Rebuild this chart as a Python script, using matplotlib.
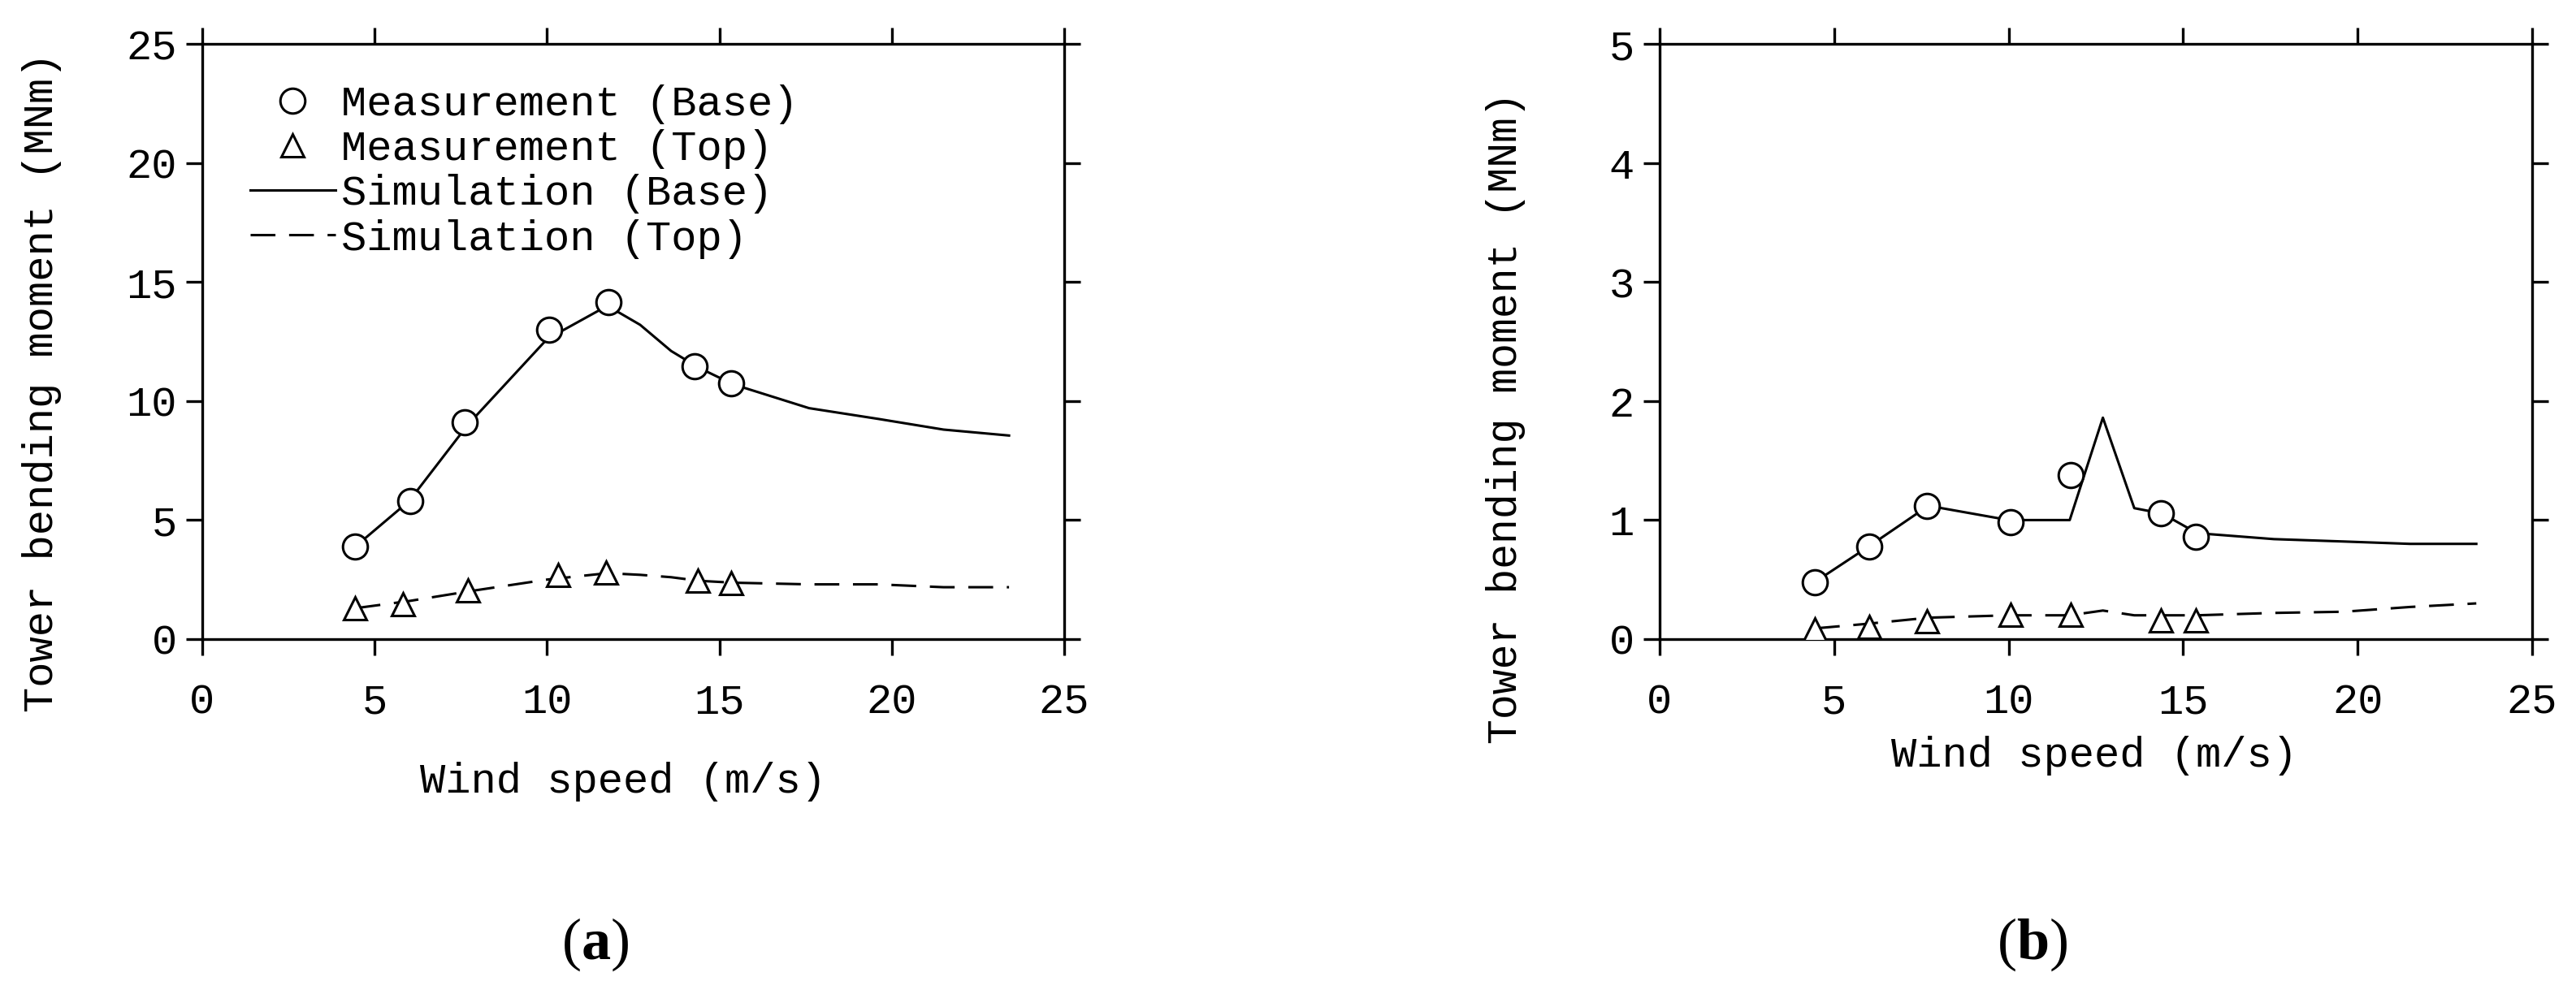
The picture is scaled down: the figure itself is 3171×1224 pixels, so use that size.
import matplotlib
matplotlib.use("Agg")
import matplotlib.pyplot as plt

# ---- data ----
SIM_WIND = [4.45, 6.0, 7.7, 10.0, 11.75, 12.7, 13.6, 14.4, 15.4, 17.6, 19.6, 21.5, 23.4]

# (a)
A_MEAS_BASE_X = [4.44, 6.04, 7.62, 10.06, 11.79, 14.29, 15.34]
A_MEAS_BASE_Y = [3.9, 5.8, 9.1, 13.0, 14.15, 11.45, 10.75]
A_MEAS_TOP_X = [4.44, 5.81, 7.70, 10.33, 11.72, 14.37, 15.34]
A_MEAS_TOP_Y = [1.29, 1.48, 2.03, 2.68, 2.79, 2.46, 2.35]
A_SIM_BASE = [3.9, 5.8, 9.0, 12.6, 14.0, 13.2, 12.1, 11.4, 10.7, 9.7, 9.25, 8.8, 8.55]
A_SIM_TOP = [1.3, 1.6, 2.0, 2.5, 2.77, 2.7, 2.6, 2.45, 2.37, 2.3, 2.3, 2.18, 2.18]

# (b)
B_MEAS_BASE_X = [4.45, 6.0, 7.65, 10.05, 11.79, 14.37, 15.36]
B_MEAS_BASE_Y = [0.48, 0.78, 1.12, 0.98, 1.38, 1.055, 0.86]
B_MEAS_TOP_X = [4.45, 6.0, 7.65, 10.05, 11.79, 14.37, 15.36]
B_MEAS_TOP_Y = [0.083, 0.10, 0.15, 0.205, 0.205, 0.16, 0.16]
B_SIM_BASE = [0.48, 0.78, 1.12, 1.0, 1.0, 1.86, 1.10, 1.055, 0.89, 0.84, 0.82, 0.80, 0.80]
B_SIM_TOP = [0.09, 0.13, 0.18, 0.20, 0.20, 0.24, 0.20, 0.20, 0.20, 0.22, 0.23, 0.27, 0.30]

X_TICKS = [0, 5, 10, 15, 20, 25]
A_Y_TICKS = [0, 5, 10, 15, 20, 25]
B_Y_TICKS = [0, 1, 2, 3, 4, 5]

LABELS = ["Measurement (Base)", "Measurement (Top)",
          "Simulation (Base)", "Simulation (Top)"]

MONO = "Liberation Mono"
plt.rcParams["font.family"] = [MONO, "DejaVu Sans Mono"]
plt.rcParams["mathtext.fontset"] = "custom"
plt.rcParams["mathtext.rm"] = "Liberation Serif"
plt.rcParams["mathtext.bf"] = "Liberation Serif:bold"

W, H = 3171, 1224
fig = plt.figure(figsize=(W / 100, H / 100), dpi=100)
fig.patch.set_facecolor("white")


def draw_panel(ax, mb_x, mb_y, mt_x, mt_y, sim_base, sim_top, yticks,
               ylabel_xy, xlabel_xy, ylab_size):
    lw = 2.2
    sb, = ax.plot(SIM_WIND, sim_base, color="black", lw=lw, zorder=2)
    st, = ax.plot(SIM_WIND, sim_top, color="black", lw=lw, zorder=2,
                  dashes=(10, 5.5))
    mb, = ax.plot(mb_x, mb_y, ls="none", marker="o", ms=22, mfc="white",
                  mec="black", mew=2.2, zorder=3)
    mt, = ax.plot(mt_x, mt_y, ls="none", marker="^", ms=20, mfc="white",
                  mec="black", mew=2.2, zorder=3)

    ax.set_xlim(0, 25)
    ax.set_ylim(yticks[0], yticks[-1])
    ax.set_xticks(X_TICKS)
    ax.set_yticks(yticks)
    ax.tick_params(direction="out", length=14.5, width=2.4, top=True,
                   right=True, labelsize=37.5)
    ax.tick_params(axis="x", pad=24)
    ax.tick_params(axis="y", pad=8)
    for sp in ax.spines.values():
        sp.set_linewidth(2.4)

    ax.set_xlabel("Wind speed (m/s)", fontsize=37.5)
    ax.xaxis.label.set_va("baseline")
    ax.xaxis.set_label_coords(*xlabel_xy)
    ax.set_ylabel("Tower bending moment (MNm)", fontsize=ylab_size)
    ax.yaxis.label.set_va("center")
    ax.yaxis.set_label_coords(*ylabel_xy)
    return mb, mt, sb, st


ax_a = fig.add_axes([249 / W, 1 - 787 / H, 1061 / W, 733 / H])
ax_b = fig.add_axes([2043 / W, 1 - 787 / H, 1074 / W, 733 / H])

handles = draw_panel(ax_a, A_MEAS_BASE_X, A_MEAS_BASE_Y, A_MEAS_TOP_X,
                     A_MEAS_TOP_Y, A_SIM_BASE, A_SIM_TOP, A_Y_TICKS,
                     (-0.186, 0.432), (0.488, -0.258), 37.5)
draw_panel(ax_b, B_MEAS_BASE_X, B_MEAS_BASE_Y, B_MEAS_TOP_X,
           B_MEAS_TOP_Y, B_SIM_BASE, B_SIM_TOP, B_Y_TICKS,
           (-0.176, 0.371), (0.498, -0.214), 37)

ax_a.legend(handles, LABELS, loc="upper left", bbox_to_anchor=(0.056, 0.932),
            frameon=False, fontsize=37.5, handlelength=2.0, handletextpad=0.15,
            labelspacing=0.12, borderpad=0, borderaxespad=0)

fig.text(0.231, 0.05, r"($\mathbf{a}$)", fontsize=52, family="Liberation Serif",
         ha="center", va="center")
fig.text(0.789, 0.05, r"($\mathbf{b}$)", fontsize=52, family="Liberation Serif",
         ha="center", va="center")

fig.savefig("out.png", dpi=100, facecolor="white")
